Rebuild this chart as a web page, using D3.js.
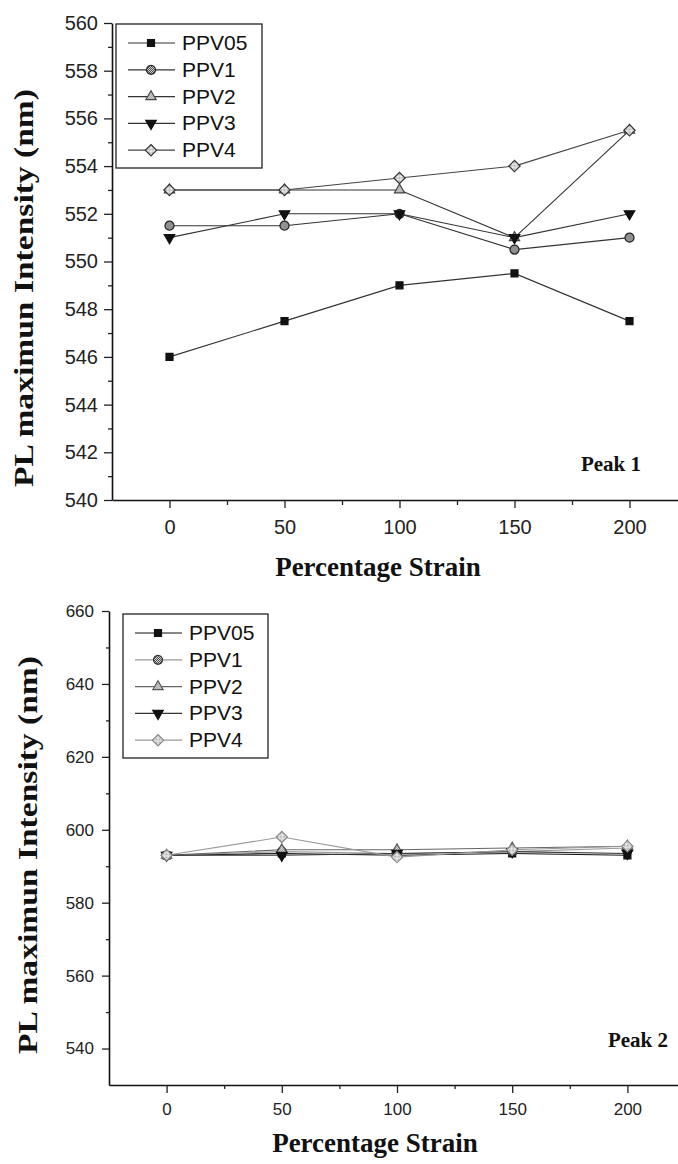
<!DOCTYPE html>
<html>
<head>
<meta charset="utf-8">
<script src="https://cdn.jsdelivr.net/npm/d3@7"></script>
<style>
body { margin: 0; background: #fff; }
svg { display: block; }
</style>
</head>
<body>
<svg id="chart" width="678" height="1164"></svg>
<script>
// values
var strain = [0, 50, 100, 150, 200];
var seriesNames = ["PPV05", "PPV1", "PPV2", "PPV3", "PPV4"];

var peak1PPV05 = [546, 547.5, 549, 549.5, 547.5];
var peak1PPV1  = [551.5, 551.5, 552, 550.5, 551];
var peak1PPV2  = [553, 553, 553, 551, 555.5];
var peak1PPV3  = [551, 552, 552, 551, 552];
var peak1PPV4  = [553, 553, 553.5, 554, 555.5];

var peak2PPV05 = [593, 593.5, 593, 593.5, 593];
var peak2PPV1  = [593, 594, 593.5, 594, 595];
var peak2PPV2  = [593, 594.5, 594.5, 595, 595.5];
var peak2PPV3  = [593, 593, 593.5, 594, 593.5];
var peak2PPV4  = [593, 598, 592.5, 594.5, 595.5];

var strainTicks = [0, 50, 100, 150, 200];
var strainMinor = [25, 75, 125, 175];
var peak1YTicks = [540, 542, 544, 546, 548, 550, 552, 554, 556, 558, 560];
var peak1YMinor = [541, 543, 545, 547, 549, 551, 553, 555, 557, 559];
var peak2YTicks = [540, 560, 580, 600, 620, 640, 660];
var peak2YMinor = [550, 570, 590, 610, 630, 650];

var svg = d3.select("#chart");
svg.append("rect").attr("width", 678).attr("height", 1164).attr("fill", "#fff");

// fill patterns for the hatched markers
var defs = svg.append("defs");
function checker(id, bg, fg) {
  var p = defs.append("pattern").attr("id", id)
    .attr("width", 2).attr("height", 2)
    .attr("patternUnits", "userSpaceOnUse");
  p.append("rect").attr("width", 2).attr("height", 2).attr("fill", bg);
  p.append("rect").attr("width", 1).attr("height", 1).attr("fill", fg);
  p.append("rect").attr("x", 1).attr("y", 1).attr("width", 1).attr("height", 1).attr("fill", fg);
}
checker("hDark", "#fff", "#222");
checker("hMid", "#fff", "#777");
checker("hLight", "#fff", "#aaa");

// marker shapes
var shapes = {
  PPV05: { path: d3.symbol().type(d3.symbolSquare).size(49)(), rot: 0 },
  PPV1:  { path: d3.symbol().type(d3.symbolCircle).size(64)(), rot: 0 },
  PPV2:  { path: d3.symbol().type(d3.symbolTriangle).size(45)(), rot: 0 },
  PPV3:  { path: d3.symbol().type(d3.symbolTriangle).size(48)(), rot: 180 },
  PPV4:  { path: d3.symbol().type(d3.symbolSquare).size(64)(), rot: 45 }
};

function drawChart(c) {
  var g = svg.append("g");
  var x = d3.scaleLinear().domain([-25, 225]).range(c.xRange);
  var y = d3.scaleLinear().domain(c.yDomain).range(c.yRange);

  // y axis
  var ya = g.append("g").attr("transform", "translate(" + c.xRange[0] + ",0)")
    .call(d3.axisLeft(y).tickValues(c.yTicks).tickSize(c.ytick).tickSizeOuter(0)
      .tickPadding(c.ypad).tickFormat(d3.format("d")));
  g.append("g").attr("transform", "translate(" + c.xRange[0] + ",0)")
    .call(d3.axisLeft(y).tickValues(c.yMinor).tickSize(c.yminor).tickSizeOuter(0).tickFormat(""))
    .select(".domain").remove();

  // x axis
  var xa = g.append("g").attr("transform", "translate(0," + c.yRange[0] + ")")
    .call(d3.axisBottom(x).tickValues(strainTicks).tickSize(c.xtick).tickSizeOuter(0)
      .tickPadding(c.xpad));
  g.append("g").attr("transform", "translate(0," + c.yRange[0] + ")")
    .call(d3.axisBottom(x).tickValues(strainMinor).tickSize(c.xminor).tickSizeOuter(0).tickFormat(""))
    .select(".domain").remove();

  g.selectAll(".domain").attr("stroke", "#111").attr("stroke-width", 1.6);
  g.selectAll(".tick line").attr("stroke", "#222").attr("stroke-width", 1.3);
  g.selectAll(".tick text").attr("font-family", "Liberation Sans, Arial, sans-serif")
    .attr("font-size", c.tickFont).attr("fill", "#222");

  // series
  var line = d3.line().x(function(d) { return x(d.x); }).y(function(d) { return y(d.y); });
  c.series.forEach(function(s) {
    var pts = strain.map(function(v, i) { return { x: v, y: s.values[i] }; });
    g.append("path").datum(pts).attr("d", line)
      .attr("fill", "none").attr("stroke", s.line).attr("stroke-width", 1.1);
  });
  c.series.forEach(function(s) {
    var pts = strain.map(function(v, i) { return { x: v, y: s.values[i] }; });
    g.selectAll(null).data(pts).enter().append("path")
      .attr("d", shapes[s.name].path)
      .attr("transform", function(d) {
        return "translate(" + x(d.x) + "," + y(d.y) + ") rotate(" + shapes[s.name].rot + ")";
      })
      .attr("fill", s.fill).attr("stroke", s.stroke).attr("stroke-width", 1.2);
  });

  // legend
  var lg = g.append("g");
  lg.append("rect").attr("x", c.legend.x).attr("y", c.legend.y)
    .attr("width", c.legend.w).attr("height", c.legend.h)
    .attr("fill", "#fff").attr("stroke", "#222").attr("stroke-width", 1.3);
  c.series.forEach(function(s, i) {
    var ly = c.legend.y + c.legend.first + i * c.legend.step;
    var lx = c.legend.x + 12;
    lg.append("line").attr("x1", lx).attr("x2", lx + 47).attr("y1", ly).attr("y2", ly)
      .attr("stroke", s.line).attr("stroke-width", 1.2);
    lg.append("path").attr("d", shapes[s.name].path)
      .attr("transform", "translate(" + (lx + 23) + "," + ly + ") rotate(" + shapes[s.name].rot + ")")
      .attr("fill", s.fill).attr("stroke", s.stroke).attr("stroke-width", 1.2);
    lg.append("text").attr("x", lx + 54).attr("y", ly + 7)
      .attr("font-family", "Liberation Sans, Arial, sans-serif").attr("font-size", 21)
      .attr("fill", "#111").text(s.name);
  });

  // titles
  g.append("text").attr("x", c.xTitle[0]).attr("y", c.xTitle[1])
    .attr("text-anchor", "middle").attr("font-family", "Liberation Serif, Times New Roman, serif")
    .attr("font-weight", "bold").attr("font-size", 27).attr("fill", "#111")
    .text("Percentage Strain");
  g.append("text").attr("transform", "translate(" + c.yTitle[0] + "," + c.yTitle[1] + ") rotate(-90)")
    .attr("text-anchor", "middle").attr("font-family", "Liberation Serif, Times New Roman, serif")
    .attr("font-weight", "bold").attr("font-size", 28).attr("fill", "#111")
    .attr("textLength", 398).attr("lengthAdjust", "spacingAndGlyphs")
    .text("PL maximun Intensity (nm)");
  g.append("text").attr("x", c.peak[0]).attr("y", c.peak[1])
    .attr("text-anchor", "middle").attr("font-family", "Liberation Serif, Times New Roman, serif")
    .attr("font-weight", "bold").attr("font-size", 21).attr("fill", "#111")
    .text(c.peakLabel);
}

drawChart({
  xRange: [112, 687], yDomain: [540, 560], yRange: [500, 23],
  yTicks: peak1YTicks, yMinor: peak1YMinor,
  ytick: 8, yminor: 4, ypad: 6, xtick: 8, xminor: 5, xpad: 12, tickFont: 20,
  series: [
    { name: "PPV05", values: peak1PPV05, line: "#333", fill: "#111", stroke: "#111" },
    { name: "PPV1", values: peak1PPV1, line: "#333", fill: "url(#hDark)", stroke: "#222" },
    { name: "PPV2", values: peak1PPV2, line: "#333", fill: "url(#hMid)", stroke: "#444" },
    { name: "PPV3", values: peak1PPV3, line: "#333", fill: "#111", stroke: "#111" },
    { name: "PPV4", values: peak1PPV4, line: "#444", fill: "url(#hLight)", stroke: "#333" }
  ],
  legend: { x: 116, y: 24, w: 146, h: 144, first: 19, step: 26.8 },
  xTitle: [378, 576], yTitle: [33, 288], peak: [611, 471], peakLabel: "Peak 1"
});

drawChart({
  xRange: [109, 685], yDomain: [530, 660], yRange: [1085, 611],
  yTicks: peak2YTicks, yMinor: peak2YMinor,
  ytick: 7, yminor: 3, ypad: 8, xtick: 8, xminor: 4, xpad: 10, tickFont: 17,
  series: [
    { name: "PPV05", values: peak2PPV05, line: "#111", fill: "#111", stroke: "#111" },
    { name: "PPV1", values: peak2PPV1, line: "#999", fill: "url(#hDark)", stroke: "#333" },
    { name: "PPV2", values: peak2PPV2, line: "#666", fill: "url(#hMid)", stroke: "#555" },
    { name: "PPV3", values: peak2PPV3, line: "#333", fill: "#111", stroke: "#111" },
    { name: "PPV4", values: peak2PPV4, line: "#999", fill: "url(#hLight)", stroke: "#888" }
  ],
  legend: { x: 123, y: 614, w: 145, h: 144, first: 19, step: 26.8 },
  xTitle: [375, 1152], yTitle: [37, 855], peak: [638, 1047], peakLabel: "Peak 2"
});
</script>
</body>
</html>
